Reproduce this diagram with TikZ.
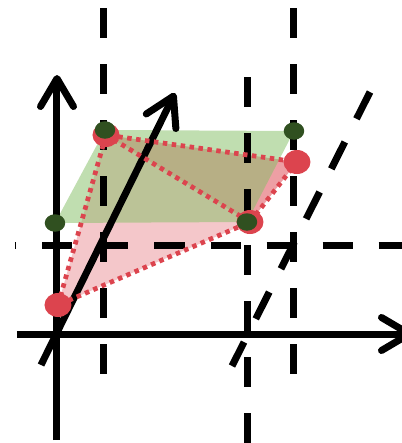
\documentclass[tikz,border=0pt]{standalone}
\usetikzlibrary{arrows.meta,shapes.geometric}
\definecolor{dotred}{RGB}{220,68,78}
\definecolor{leafgreen}{RGB}{136,192,106}
\definecolor{darkleaf}{RGB}{48,80,32}
\tikzset{
    thickline/.style={line width=1.4mm},
    gridline/.style={line width=1.4mm, dash pattern=on 6mm off 5.2mm},
    axisarrow/.style={-{Straight Barb[length=5.6mm, width=6.6mm, line cap=round, line join=round]}},
    reddot/.style={ellipse, fill=dotred, inner sep=0pt, minimum width=5.4mm, minimum height=4.8mm},
    greendot/.style={ellipse, fill=darkleaf, inner sep=0pt, minimum width=4.1mm, minimum height=3.5mm},
    redpath/.style={dotred, line width=0.95mm, dash pattern=on 0.9mm off 0.9mm}
}
\begin{document}
\begin{tikzpicture}[x=0.2mm, y=0.2mm]
        \useasboundingbox (-57,-109) rectangle (345,334);
        % corners of the two cells
        \coordinate (a) at (1,29);
        \coordinate (b) at (49,199);
        \coordinate (c) at (240,172);
        \coordinate (d) at (193,112);
        \coordinate (p) at (-2,111);
        \coordinate (q) at (48,204);
        \coordinate (r) at (237,203);
        \coordinate (s) at (190,112);
        \fill[dotred, opacity=0.3] (a) -- (b) -- (c) -- (d) -- cycle;
        \fill[dotred, opacity=0.3] (b) -- (c) -- (d) -- cycle;
        \fill[leafgreen, opacity=0.53] (p) -- (q) -- (r) -- (s) -- cycle;
        % grid lines
        \foreach \x in {47, 237} {
            \draw[gridline] (\x,326) -- (\x,-40);
        }
        \draw[gridline] (191,257) -- (191,-109);
        \draw[gridline, dash phase=5.7mm] (-42,89) -- (345,89);
        \draw[gridline] (313,242) -- (175,-32);
        % axes
        \coordinate (o) at (0,0);
        \coordinate (xend) at (356,0);
        \coordinate (yend) at (0,259);
        \coordinate (vend) at (118,241);
        \draw[thickline, axisarrow] (-40,0) -- (xend);
        \draw[thickline, axisarrow] (0,-106) -- (yend);
        \draw[thickline, axisarrow] (-16,-31) -- (vend);
        % red cell
        \draw[redpath] (a) -- (b) -- (c) -- (d) -- cycle;
        \draw[redpath] (b) -- (d);
        \foreach \n in {a, b, c, d} {
            \node[reddot] (dot\n) at (\n) {};
        }
        \foreach \n in {p, q, r, s} {
            \node[greendot] (dot\n) at (\n) {};
        }
    \end{tikzpicture}
\end{document}
